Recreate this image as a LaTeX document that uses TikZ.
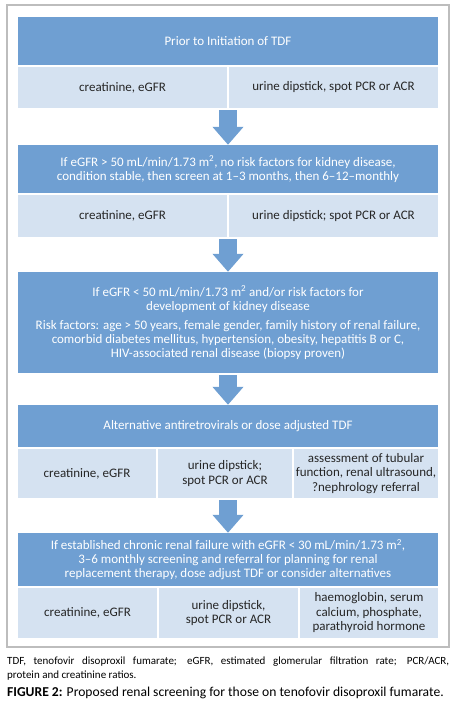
\documentclass[tikz,border=0pt]{standalone}
\usepackage{fontspec}
\setmainfont{Carlito}
\usetikzlibrary{arrows.meta}
\definecolor{hdblue}{HTML}{6F9FD2}
\definecolor{cellblue}{HTML}{D5E2F1}
\definecolor{celltext}{HTML}{262626}
\definecolor{framegray}{HTML}{BDBDBD}
\tikzset{
  hdbox/.style={fill=hdblue, text=white, minimum width=420pt, align=center, inner sep=0pt,
    font=\fontsize{13}{14}\selectfont},
  cellbox/.style={fill=cellblue, text=celltext, align=center, inner sep=0pt,
    font=\fontsize{13}{14.5}\selectfont},
  downarrow/.style={draw=hdblue, line width=18pt, -{Triangle[width=30pt,length=18pt]}, shorten <=2pt},
}
\begin{document}
\begin{tikzpicture}[x=1pt,y=-1pt]
\useasboundingbox (0,0) rectangle (456,706);
\draw[framegray, line width=1.2pt] (7,5) rectangle (449,647);
% prior to initiation
\node[hdbox, minimum height=48pt] (b1) at (228,41){Prior to Initiation of TDF};
\node[cellbox, minimum width=209pt, minimum height=41pt] (r1a) at (122.5,87.5){creatinine, eGFR};
\node[cellbox, minimum width=209pt, minimum height=41pt] (r1b) at (333.5,87.5){urine dipstick, spot PCR or ACR};
% stable
\node[hdbox, minimum height=48pt] (b2) at (228,169){If eGFR > 50 mL/min/1.73 m\textsuperscript{2}, no risk factors for kidney disease,\\
condition stable, then screen at 1--3 months, then 6--12--monthly};
\node[cellbox, minimum width=209pt, minimum height=42pt] (r2a) at (122.5,216){creatinine, eGFR};
\node[cellbox, minimum width=209pt, minimum height=42pt] (r2b) at (333.5,216){urine dipstick; spot PCR or ACR};
% risk factors
\node[hdbox, minimum height=101pt] (b3) at (228,322.5){If eGFR < 50 mL/min/1.73 m\textsuperscript{2} and/or risk factors for\\
development of kidney disease\\[5pt]
Risk factors: age > 50 years, female gender, family history of renal failure,\\
comorbid diabetes mellitus, hypertension, obesity, hepatitis B or C,\\
HIV-associated renal disease (biopsy proven)};
% alternatives
\node[hdbox, minimum height=42pt] (b4) at (228,426){Alternative antiretrovirals or dose adjusted TDF};
\node[cellbox, minimum width=138pt, minimum height=49pt] (r3a) at (87,473.5){creatinine, eGFR};
\node[cellbox, minimum width=134pt, minimum height=49pt] (r3b) at (225,473.5){urine dipstick;\\spot PCR or ACR};
\node[cellbox, minimum width=144pt, minimum height=49pt] (r3c) at (366,473.5){assessment of tubular\\function, renal ultrasound,\\?nephrology referral};
% chronic renal failure
\node[hdbox, minimum height=53pt] (b5) at (228,559.5){If established chronic renal failure with eGFR < 30 mL/min/1.73 m\textsuperscript{2},\\
3--6 monthly screening and referral for planning for renal\\
replacement therapy, dose adjust TDF or consider alternatives};
\node[cellbox, minimum width=139pt, minimum height=50pt] (r4a) at (87.5,613){creatinine, eGFR};
\node[cellbox, minimum width=139pt, minimum height=50pt] (r4b) at (228.5,613){urine dipstick,\\spot PCR or ACR};
\node[cellbox, minimum width=138pt, minimum height=50pt] (r4c) at (369,613){haemoglobin, serum\\calcium, phosphate,\\parathyroid hormone};
% arrows
\draw[downarrow] (r1a.south -| b2.north) -- (b2.north);
\draw[downarrow] (r2a.south -| b3.north) -- (b3.north);
\draw[downarrow] (b3.south) -- (b4.north);
\draw[downarrow] (r3b.south -| b5.north) -- (b5.north);
% caption
\node[anchor=north west, inner sep=0pt, text width=442pt, align=justify,
  font=\fontsize{11}{13.5}\selectfont] (note) at (7,657){TDF, tenofovir disoproxil fumarate; eGFR, estimated glomerular filtration rate; PCR/ACR,\linebreak protein and creatinine ratios.};
\node[anchor=base west, inner sep=0pt, font=\fontsize{13.6}{15}\selectfont] (fig) at (7,696){\textbf{FIGURE 2:} Proposed renal screening for those on tenofovir disoproxil fumarate.};
\end{tikzpicture}
\end{document}
